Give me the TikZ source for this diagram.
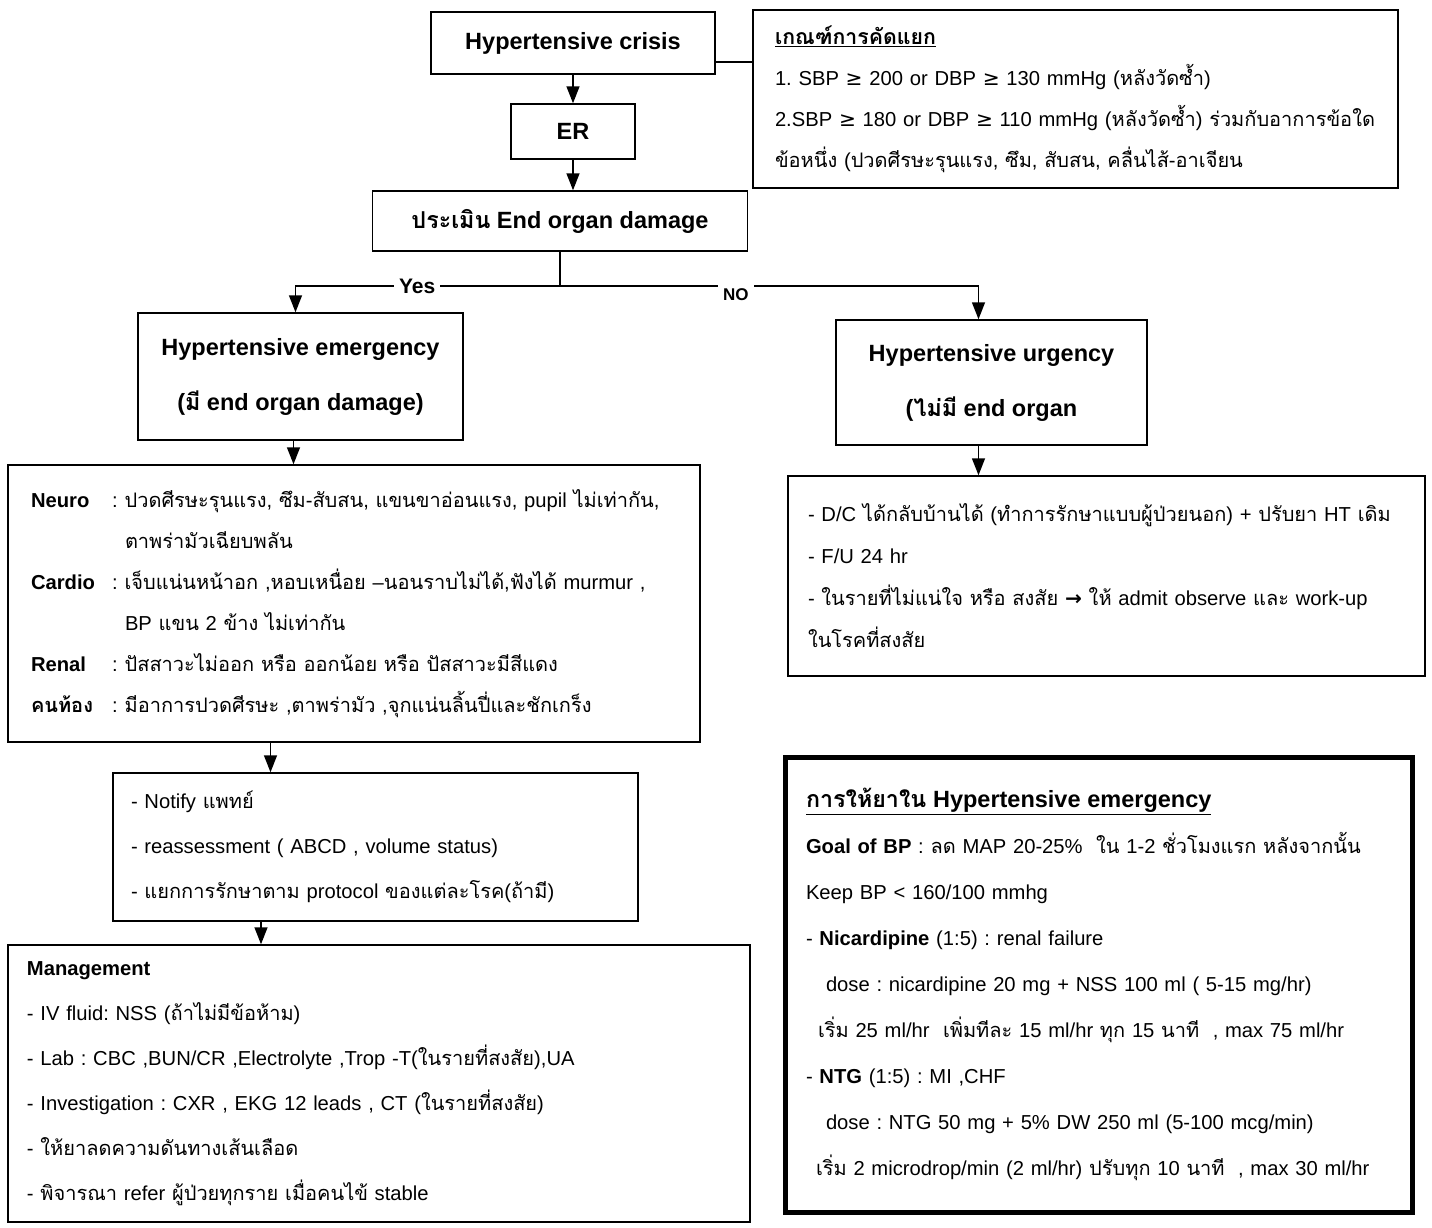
\documentclass[tikz,border=0pt]{standalone}
\usepackage{fontspec}
\setmainfont{Liberation Sans}
\newfontfamily\thaifont[Script=Thai,Scale=0.99]{Loma}
\newfontfamily\symfont{DejaVu Sans}
\usetikzlibrary{positioning,arrows.meta}
\frenchspacing

% Thai runs switch to Loma on their own
\XeTeXinterchartokenstate=1
\newXeTeXintercharclass\thaiclass
\count255="0E00
\loop\ifnum\count255<"0E80
  \XeTeXcharclass\count255=\thaiclass
  \advance\count255 by 1
\repeat
\XeTeXinterchartoks 0 \thaiclass = {\thaifont}
\XeTeXinterchartoks 4095 \thaiclass = {\thaifont}
\XeTeXinterchartoks \thaiclass 0 = {\rmfamily}
\XeTeXinterchartoks \thaiclass 4095 = {\rmfamily}

\newcommand{\organ}[1]{\makebox[81pt][l]{\textbf{#1}}:\hspace{7pt}}
\newcommand{\indentline}{\hspace*{94pt}}
\newcommand{\gesym}{{\symfont ≥}}

\begin{document}
\begin{tikzpicture}[x=1pt, y=-1pt, line width=1.5pt, >={Triangle[width=13pt,length=17pt]},
    box/.style = {draw, inner sep=0pt, align=center, font=\bfseries\fontsize{23.5}{55}\selectfont},
    txt/.style = {draw, inner sep=0pt, align=left, font=\fontsize{20.2}{41}\selectfont,
                  execute at begin node={\rightskip=0pt plus 1fil minus 1000pt\relax}},
    lbl/.style = {fill=white, inner sep=5pt, font=\bfseries\fontsize{21}{24}\selectfont}]
    \useasboundingbox[fill=white] (0,0) rectangle (1432,1227);

    \node[box, minimum width=284, minimum height=62]  (crisis) at (573,43)     {Hypertensive crisis};
    \node[box, minimum width=124, minimum height=55]  (er)     at (573,131.5)  {ER};
    \node[box, minimum width=375, minimum height=60]  (assess) at (560,221)    {ประเมิน End organ damage};
    \node[box, minimum width=325, minimum height=127] (emerg)  at (300.5,376.5) {Hypertensive emergency\\(มี end organ damage)};
    \node[box, minimum width=311, minimum height=125] (urg)    at (991.5,382.5) {Hypertensive urgency\\(ไม่มี end organ};

    \node[txt, minimum width=645, minimum height=178, text width=601] (crit) at (1075.5,99) {%
        {\fontsize{21.5}{41}\selectfont\underline{\textbf{เกณฑ์การคัดแยก}}}\\
        1. SBP \gesym{} 200 or DBP \gesym{} 130 mmHg (หลังวัดซ้ำ)\\
        2.SBP \gesym{} 180 or DBP \gesym{} 110 mmHg (หลังวัดซ้ำ) ร่วมกับอาการข้อใด\\
        ข้อหนึ่ง (ปวดศีรษะรุนแรง, ซึม, สับสน, คลื่นไส้-อาเจียน};

    \node[txt, minimum width=692, minimum height=277, text width=646] (neuro) at (354,603.5) {%
        \organ{Neuro}ปวดศีรษะรุนแรง, ซึม-สับสน, แขนขาอ่อนแรง, pupil ไม่เท่ากัน,\\
        \indentline ตาพร่ามัวเฉียบพลัน\\
        \organ{Cardio}เจ็บแน่นหน้าอก ,หอบเหนื่อย –นอนราบไม่ได้,ฟังได้ murmur ,\\
        \indentline BP แขน 2 ข้าง ไม่เท่ากัน\\
        \organ{Renal}ปัสสาวะไม่ออก หรือ ออกน้อย หรือ ปัสสาวะมีสีแดง\\
        \organ{คนท้อง}มีอาการปวดศีรษะ ,ตาพร่ามัว ,จุกแน่นลิ้นปี่และชักเกร็ง};

    \node[txt, minimum width=637, minimum height=200, text width=597, font=\fontsize{20.2}{42}\selectfont] (dc) at (1106.5,576) {%
        - D/C ได้กลับบ้านได้ (ทำการรักษาแบบผู้ป่วยนอก) + ปรับยา HT เดิม\\
        - F/U 24 hr\\
        - ในรายที่ไม่แน่ใจ หรือ สงสัย {\symfont\bfseries →} ให้ admit observe และ work-up\\
        ในโรคที่สงสัย};

    \node[txt, minimum width=525, minimum height=148, text width=489, font=\fontsize{20.2}{45}\selectfont] (notify) at (375.5,847) {%
        - Notify แพทย์\\
        - reassessment ( ABCD , volume status)\\
        - แยกการรักษาตาม protocol ของแต่ละโรค(ถ้ามี)};

    \node[txt, minimum width=742, minimum height=277, text width=704, font=\fontsize{20.2}{45}\selectfont] (mgmt) at (379,1083.5) {%
        \textbf{Management}\\
        - IV fluid: NSS (ถ้าไม่มีข้อห้าม)\\
        - Lab : CBC ,BUN/CR ,Electrolyte ,Trop -T(ในรายที่สงสัย),UA\\
        - Investigation : CXR , EKG 12 leads , CT (ในรายที่สงสัย)\\
        - ให้ยาลดความดันทางเส้นเลือด\\
        - พิจารณา refer ผู้ป่วยทุกราย เมื่อคนไข้ stable};

    \node[txt, line width=5pt, minimum width=627, minimum height=455, text width=585, font=\fontsize{20.2}{46}\selectfont] (drug) at (1098.5,984.5) {%
        {\fontsize{23.5}{46}\selectfont\underline{\textbf{การให้ยาใน Hypertensive emergency}}}\\
        \textbf{Goal of BP} : ลด MAP 20-25\%~ ใน 1-2 ชั่วโมงแรก หลังจากนั้น\\
        Keep BP < 160/100 mmhg\\
        - \textbf{Nicardipine} (1:5) : renal failure\\
        \hspace*{20pt}dose : nicardipine 20 mg + NSS 100 ml ( 5-15 mg/hr)\\
        \hspace*{12pt}เริ่ม 25 ml/hr~ เพิ่มทีละ 15 ml/hr ทุก 15 นาที~ , max 75 ml/hr\\
        - \textbf{NTG} (1:5) : MI ,CHF\\
        \hspace*{20pt}dose : NTG 50 mg + 5\% DW 250 ml (5-100 mcg/min)\\
        \hspace*{10pt}เริ่ม 2 microdrop/min (2 ml/hr) ปรับทุก 10 นาที~ , max 30 ml/hr};

    \coordinate (split) at (560,286);
    \draw ([yshift=-19pt]crisis.east) -- ([yshift=-19pt]crisis.east -| crit.west);
    \draw[->] (crisis) -- (er);
    \draw[->] (er) -- (er |- assess.north);
    \draw (assess.south) -- (split);
    \draw[->] (split) -| node[lbl, pos=0.27] {Yes} ([xshift=-5pt]emerg.north);
    \draw[->] (split) -| node[lbl, pos=0.21, yshift=-9pt, font=\bfseries\fontsize{17}{20}\selectfont] {NO} ([xshift=-13pt]urg.north);
    \draw[->] ([xshift=-7pt]emerg.south) -- ([xshift=-7pt]emerg.south |- neuro.north);
    \draw[->] ([xshift=-13pt]urg.south) -- ([xshift=-13pt]urg.south |- dc.north);
    \draw[->] ([xshift=-105pt]notify.north |- neuro.south) -- ([xshift=-105pt]notify.north);
    \draw[->] ([xshift=-118pt]mgmt.north |- notify.south) -- ([xshift=-118pt]mgmt.north);
\end{tikzpicture}
\end{document}
